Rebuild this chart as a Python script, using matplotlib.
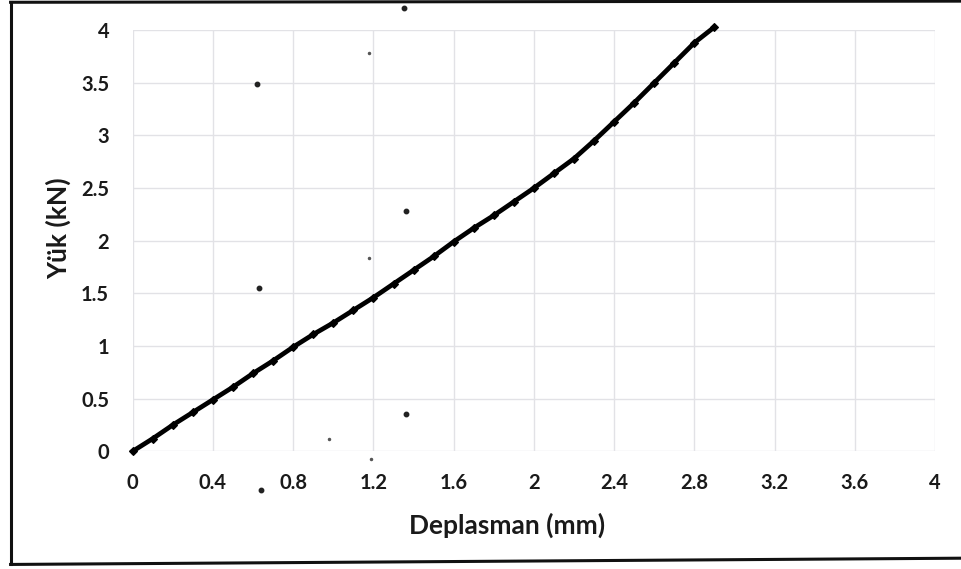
import matplotlib
matplotlib.use("Agg")
import matplotlib.pyplot as plt
from matplotlib.lines import Line2D

# Yük - deplasman eğrisi (okunan değerler)
deplasman = [0.0, 0.1, 0.2, 0.3, 0.4, 0.5, 0.6, 0.7, 0.8, 0.9,
             1.0, 1.1, 1.2, 1.3, 1.4, 1.5, 1.6, 1.7, 1.8, 1.9,
             2.0, 2.1, 2.2, 2.3, 2.4, 2.5, 2.6, 2.7, 2.8, 2.9]
yuk = [0.0, 0.12, 0.25, 0.37, 0.49, 0.61, 0.74, 0.86, 0.99, 1.11,
       1.22, 1.34, 1.46, 1.59, 1.72, 1.85, 1.99, 2.12, 2.24, 2.37,
       2.50, 2.64, 2.78, 2.95, 3.13, 3.31, 3.50, 3.69, 3.88, 4.03]

# taramadaki lekeler
leke_x = [0.62, 0.63, 0.64, 1.36, 1.36, 1.35]
leke_y = [3.49, 1.55, -0.37, 2.28, 0.35, 4.21]
kucuk_leke_x = [1.18, 1.18, 0.98, 1.19]
kucuk_leke_y = [3.78, 1.84, 0.12, -0.07]

xticks = [0, 0.4, 0.8, 1.2, 1.6, 2, 2.4, 2.8, 3.2, 3.6, 4]
yticks = [0, 0.5, 1, 1.5, 2, 2.5, 3, 3.5, 4]

plt.rcParams['font.family'] = ['Lato', 'DejaVu Sans']

fig = plt.figure(figsize=(9.62, 5.69), dpi=100)
ax = fig.add_axes([0.138, 0.207, 0.834, 0.740])

ax.plot(deplasman, yuk, color='black', lw=3.4, marker='D', markersize=4.2,
        markeredgewidth=0.8, clip_on=False, zorder=3)
ax.plot(leke_x, leke_y, 'o', color='#222222', markersize=3.2, clip_on=False, zorder=3)
ax.plot(kucuk_leke_x, kucuk_leke_y, 'o', color='#555555', markersize=1.5, clip_on=False, zorder=3)

ax.set_xlim(0, 4)
ax.set_ylim(0, 4)
ax.set_xticks(xticks)
ax.set_yticks(yticks)
ax.set_xticklabels([f"{t:g}" for t in xticks])
ax.set_yticklabels([f"{t:g}" for t in yticks])
ax.tick_params(length=0, labelsize=14.5, colors='#1a1a1a')
ax.tick_params(axis='x', pad=16)
ax.tick_params(axis='y', pad=17)
for lbl in ax.get_xticklabels() + ax.get_yticklabels():
    lbl.set_fontweight('bold')

ax.grid(True, color='#e2e2e6', lw=1.0)
ax.set_axisbelow(True)
for s in ax.spines.values():
    s.set_visible(False)

ax.set_xlabel('Deplasman (mm)', fontsize=19, fontweight='bold', color='#1a1a1a', labelpad=8)
ax.set_ylabel('Yük (kN)', fontsize=19, fontweight='bold', color='#1a1a1a', labelpad=7)
ax.xaxis.set_label_coords(0.466, -0.145)
ax.yaxis.label.set_y(0.53)

# çerçeve
fig.add_artist(Line2D([0.011, 1.0], [0.996, 0.998], color='#111111', lw=2.2))
fig.add_artist(Line2D([0.011, 0.011], [0.996, 0.008], color='#111111', lw=2.2))
fig.add_artist(Line2D([0.011, 1.0], [0.008, 0.019], color='#111111', lw=2.2))

fig.savefig('out.png', dpi=100)
